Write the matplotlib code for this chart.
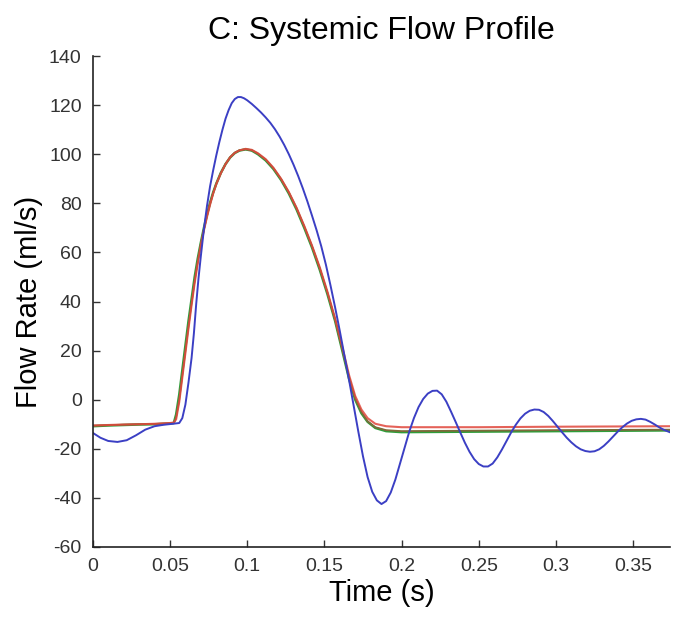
import matplotlib
matplotlib.use("Agg")
import matplotlib.pyplot as plt

plt.rcParams['font.family'] = ['Liberation Sans', 'DejaVu Sans']
plt.rcParams['axes.unicode_minus'] = False

title = "C: Systemic Flow Profile"
xlabel = "Time (s)"
ylabel = "Flow Rate (ml/s)"
xticks = [0, 0.05, 0.1, 0.15, 0.2, 0.25, 0.3, 0.35]
xticklabels = ["0", "0.05", "0.1", "0.15", "0.2", "0.25", "0.3", "0.35"]
yticks = [-60, -40, -20, 0, 20, 40, 60, 80, 100, 120, 140]

blue_t = [0.000, 0.005, 0.010, 0.016, 0.022, 0.028, 0.034, 0.040, 0.046, 0.052, 0.056,
          0.058, 0.060, 0.062, 0.064, 0.0655, 0.067, 0.0685, 0.070, 0.072, 0.074, 0.076,
          0.078, 0.080, 0.082, 0.084, 0.086, 0.088, 0.090, 0.092, 0.094, 0.096, 0.098,
          0.100, 0.103, 0.106, 0.109, 0.112, 0.115, 0.118, 0.121, 0.124, 0.127, 0.130,
          0.133, 0.136, 0.139, 0.142, 0.145, 0.148, 0.151, 0.154, 0.157, 0.160, 0.163,
          0.166, 0.169, 0.172, 0.175, 0.178, 0.181, 0.184, 0.187, 0.190, 0.193, 0.196,
          0.199, 0.202, 0.205, 0.208, 0.211, 0.214, 0.217, 0.220, 0.223, 0.226, 0.229,
          0.232, 0.235, 0.238, 0.241, 0.244, 0.247, 0.250, 0.253, 0.256, 0.259, 0.262,
          0.265, 0.268, 0.271, 0.274, 0.277, 0.280, 0.283, 0.286, 0.289, 0.292, 0.295,
          0.298, 0.301, 0.304, 0.307, 0.310, 0.313, 0.316, 0.319, 0.322, 0.325, 0.328,
          0.331, 0.334, 0.337, 0.340, 0.343, 0.346, 0.349, 0.352, 0.355, 0.358, 0.361,
          0.364, 0.367, 0.370, 0.374]
blue_v = [-13.5, -15.5, -16.8, -17.2, -16.5, -14.5, -12.2, -10.8, -10.2, -9.8, -9.5,
          -7.5, -2, 7, 17, 27, 39, 49.5, 58.5, 69.5, 79, 87,
          93.5, 99.5, 105, 110, 114.5, 118, 120.8, 122.5, 123.3, 123.3, 122.8,
          122, 120.5, 118.8, 117, 115, 112.8, 110.2, 107.2, 103.8, 100, 95.8,
          91.2, 86.2, 80.8, 75, 69, 62.5, 55, 46.5, 37.5, 28, 18,
          8, -2.5, -13, -23, -31.5, -37.5, -41, -42.5, -41.3, -37.8, -32.5,
          -26, -19.5, -13, -7.5, -3, 0.3, 2.5, 3.6, 3.7, 2.2, -0.8,
          -4.8, -9, -13.3, -17.5, -21.2, -24.2, -26.2, -27.2, -27.2, -26, -23.5,
          -20.3, -16.8, -13.3, -10.2, -7.6, -5.7, -4.5, -4, -4.1, -5, -6.6,
          -8.7, -11, -13.3, -15.5, -17.4, -19, -20.2, -20.9, -21.2, -21, -20.2,
          -18.8, -17, -15, -13, -11.2, -9.7, -8.6, -8, -7.8, -8.1, -9,
          -10.1, -11.3, -12.3, -13.3]

grn_t = [0.000, 0.010, 0.020, 0.030, 0.040, 0.050, 0.0525, 0.054, 0.056, 0.058, 0.060,
         0.062, 0.064, 0.066, 0.068, 0.070, 0.072, 0.074, 0.076, 0.078, 0.080, 0.083,
         0.086, 0.089, 0.092, 0.095, 0.099, 0.103, 0.107, 0.112, 0.117, 0.122, 0.127,
         0.132, 0.137, 0.142, 0.147, 0.152, 0.157, 0.162, 0.166, 0.170, 0.174, 0.178,
         0.183, 0.190, 0.200, 0.250, 0.300, 0.374]
green_v = [-10.8, -10.5, -10.3, -10.1, -10.0, -9.7, -9.5, -6, 2, 12, 22,
           32, 41, 50, 57.5, 64, 70, 75.5, 80.3, 84.5, 88, 92.5,
           96, 98.7, 100.5, 101.5, 102, 101.5, 100, 97.5, 94, 89.5, 84,
           77.5, 70, 62, 53, 43, 32, 19, 8.5, 0, -5.5, -9,
           -11.5, -12.8, -13.2, -13, -12.8, -12.5]
olive_v = [-10.6, -10.4, -10.2, -10.0, -9.9, -9.6, -9.4, -7, 0, 10, 20,
           30, 39.5, 48.5, 56.5, 63.5, 69.5, 75, 80, 84.3, 88, 92.4,
           96, 98.8, 100.6, 101.6, 102, 101.6, 100.2, 97.8, 94.3, 89.8, 84.4,
           78, 70.5, 62.5, 53.5, 43.5, 32.5, 19.5, 9, 0.5, -5, -8.8,
           -11.2, -12.4, -12.8, -12.6, -12.4, -12.2]
red_v = [-10.5, -10.3, -10.1, -10.0, -9.8, -9.5, -9.3, -8, -1, 9, 19,
         29, 38.5, 47.5, 55.5, 63, 69, 74.5, 79.5, 84, 87.8, 92.3,
         96, 98.8, 100.6, 101.6, 102.2, 101.8, 100.4, 98, 94.5, 90, 84.6,
         78.2, 70.8, 62.8, 54, 44, 33, 20.5, 10, 1.5, -4, -7.5,
         -9.8, -10.8, -11.2, -11.2, -11, -10.8]

fig = plt.figure(figsize=(6.77, 6.23), dpi=100)
ax = fig.add_axes([0.137, 0.122, 0.853, 0.788])

ax.plot(grn_t, green_v, color='#2e9e3a', lw=1.8)
ax.plot(grn_t, olive_v, color='#7d6a3a', lw=1.3)
ax.plot(grn_t, red_v, color='#e0473c', lw=1.5, alpha=0.85)
ax.plot(blue_t, blue_v, color='#3b3fc4', lw=1.4)

ax.set_xlim(0, 0.374)
ax.set_ylim(-60, 140)
ax.set_xticks(xticks)
ax.set_xticklabels(xticklabels)
ax.set_yticks(yticks)
ax.tick_params(direction='in', length=5, width=1, labelsize=14, colors='#333333', pad=8)
for s in ['top', 'right']:
    ax.spines[s].set_visible(False)
for s in ['left', 'bottom']:
    ax.spines[s].set_linewidth(1.2)
    ax.spines[s].set_color('#222222')

ax.set_title(title, fontsize=23, pad=12)
ax.set_xlabel(xlabel, fontsize=21, labelpad=3)
ax.set_ylabel(ylabel, fontsize=21, labelpad=4)

fig.savefig('out.png', dpi=100)
